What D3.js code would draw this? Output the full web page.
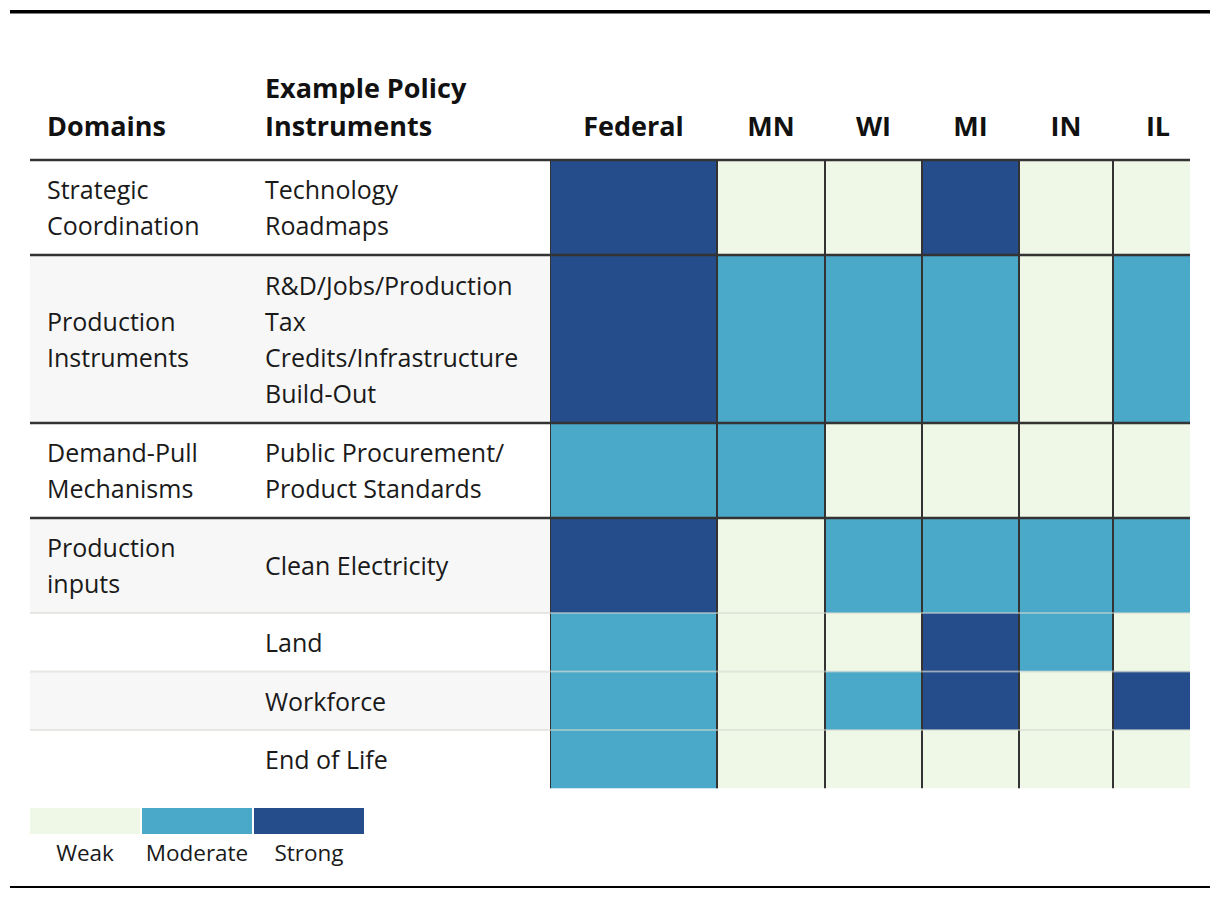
<!DOCTYPE html>
<html><head><meta charset="utf-8">
<script src="https://cdn.jsdelivr.net/npm/d3@7"></script>
<style>body{margin:0;background:#fff} svg{display:block} text{font-family:"Open Sans", Lato, sans-serif}</style>
</head><body><svg id="c" width="1220" height="900"></svg>
<script>
// ---- data ----
const columns = ["Federal", "MN", "WI", "MI", "IN", "IL"];
const domains = ["Strategic\nCoordination", "Production\nInstruments", "Demand-Pull\nMechanisms", "Production\ninputs", "", "", ""];
const instruments = ["Technology\nRoadmaps", "R&D/Jobs/Production\nTax\nCredits/Infrastructure\nBuild-Out", "Public Procurement/\nProduct Standards", "Clean Electricity", "Land", "Workforce", "End of Life"];
const levels = ["Weak", "Moderate", "Strong"];
const federalValues = ["Strong", "Strong", "Moderate", "Strong", "Moderate", "Moderate", "Moderate"];
const mnValues = ["Weak", "Moderate", "Moderate", "Weak", "Weak", "Weak", "Weak"];
const wiValues = ["Weak", "Moderate", "Weak", "Moderate", "Weak", "Moderate", "Weak"];
const miValues = ["Strong", "Moderate", "Weak", "Moderate", "Strong", "Strong", "Weak"];
const inValues = ["Weak", "Weak", "Weak", "Moderate", "Moderate", "Weak", "Weak"];
const ilValues = ["Weak", "Moderate", "Weak", "Moderate", "Weak", "Strong", "Weak"];
const headerDomains = "Domains";
const headerInstruments = ["Example Policy", "Instruments"];

const valuesByColumn = [federalValues, mnValues, wiValues, miValues, inValues, ilValues];
const rows = instruments.map((d, i) => ({
  domain: domains[i] ? domains[i].split("\n") : [],
  inst: d.split("\n"),
  i
}));

// ---- layout ----
const svg = d3.select("#c");
const left = 30, right = 1190, gridLeft = 550, headerBottom = 160;
const lineH = 36, fs = 25;
const colWidths = [167, 108, 97, 97, 94, 90]; // table auto layout widths

const color = d3.scaleOrdinal(levels, ["#eff7e6", "#4aa8c9", "#264d8b"]);

const colStarts = d3.cumsum([0, ...colWidths]).map(v => v + gridLeft);
const xCol = d3.scaleOrdinal(columns, colStarts.slice(0, columns.length));
const wCol = d3.scaleOrdinal(columns, colWidths);

// row heights
const rowH = rows.map(r => Math.max(r.domain.length, r.inst.length) * 36.5 + 22);
const rowStarts = d3.cumsum([0, ...rowH]).map(v => v + headerBottom);
const yRow = d3.scaleOrdinal(d3.range(rows.length), rowStarts.slice(0, rows.length));
const hRow = d3.scaleOrdinal(d3.range(rows.length), rowH);
const tableBottom = rowStarts[rows.length];

// top / bottom rules
svg.append("rect").attr("x", 10).attr("y", 10).attr("width", 1200).attr("height", 3.5).attr("fill", "#000");
svg.append("rect").attr("x", 10).attr("y", 886).attr("width", 1200).attr("height", 2).attr("fill", "#000");

// row backgrounds (left part)
svg.append("g").selectAll("rect").data(rows).join("rect")
  .attr("x", left).attr("y", d => yRow(d.i)).attr("width", gridLeft - left).attr("height", d => hRow(d.i))
  .attr("fill", d => d.i % 2 ? "#f7f7f7" : "#ffffff");

// cells
svg.append("clipPath").attr("id", "gclip").append("rect")
  .attr("x", gridLeft).attr("y", headerBottom).attr("width", right - gridLeft).attr("height", tableBottom - headerBottom);
const grid = svg.append("g").attr("clip-path", "url(#gclip)");
const cells = [];
columns.forEach((c, ci) => valuesByColumn[ci].forEach((v, ri) => cells.push({ c, ri, v })));
grid.selectAll("rect.cell").data(cells).join("rect").attr("class", "cell")
  .attr("x", d => xCol(d.c)).attr("y", d => yRow(d.ri))
  .attr("width", d => wCol(d.c)).attr("height", d => hRow(d.ri))
  .attr("fill", d => color(d.v));

// thin separators
const thinIdx = [4, 5, 6];
svg.append("g").selectAll("line").data(thinIdx).join("line")
  .attr("x1", left).attr("x2", right).attr("y1", d => yRow(d)).attr("y2", d => yRow(d))
  .attr("stroke", "#d4d8d0").attr("stroke-opacity", 0.55).attr("stroke-width", 2);

// vertical column lines
grid.selectAll("line.v").data(columns).join("line").attr("class", "v")
  .attr("x1", d => xCol(d)).attr("x2", d => xCol(d))
  .attr("y1", headerBottom).attr("y2", tableBottom)
  .attr("stroke", "#333").attr("stroke-width", 2);

// thick separators
const thickY = [headerBottom, yRow(1), yRow(2), yRow(3)];
svg.append("g").selectAll("line").data(thickY).join("line")
  .attr("x1", left).attr("x2", right).attr("y1", d => d).attr("y2", d => d)
  .attr("stroke", "#333").attr("stroke-width", 2.5);

// header text
const hdr = svg.append("g").attr("font-size", 27).attr("font-weight", 700).attr("fill", "#111");
hdr.append("text").attr("x", 47).attr("y", 136).text(headerDomains);
hdr.selectAll("text.ins").data(headerInstruments).join("text").attr("class", "ins")
  .attr("x", 265).attr("y", (d, i) => 136 - (headerInstruments.length - 1 - i) * 38).text(d => d);
hdr.selectAll("text.col").data(columns).join("text").attr("class", "col")
  .attr("x", d => xCol(d) + wCol(d) / 2).attr("y", 136).attr("text-anchor", "middle").text(d => d);

// body text
function block(g, x, lines, ri) {
  const cy = yRow(ri) + hRow(ri) / 2 + 1;
  g.append("text").attr("x", x).selectAll("tspan").data(lines).join("tspan")
    .attr("x", x).attr("y", (d, i) => cy + (i - (lines.length - 1) / 2) * lineH).attr("dy", "0.35em").text(d => d);
}
const body = svg.append("g").attr("font-size", fs).attr("fill", "#1a1a1a");
rows.forEach(r => {
  if (r.domain.length) block(body, 47, r.domain, r.i);
  block(body, 265, r.inst, r.i);
});

// legend
const lx = d3.scaleBand(levels, [30, 364]).paddingInner(2 / 112);
const lg = svg.append("g");
lg.selectAll("rect").data(levels).join("rect")
  .attr("x", d => lx(d)).attr("y", 808).attr("width", lx.bandwidth()).attr("height", 26).attr("fill", d => color(d));
lg.selectAll("text").data(levels).join("text")
  .attr("x", d => lx(d) + lx.bandwidth() / 2).attr("y", 861).attr("text-anchor", "middle")
  .attr("font-size", 22.5).attr("fill", "#1a1a1a").text(d => d);
</script></body></html>
